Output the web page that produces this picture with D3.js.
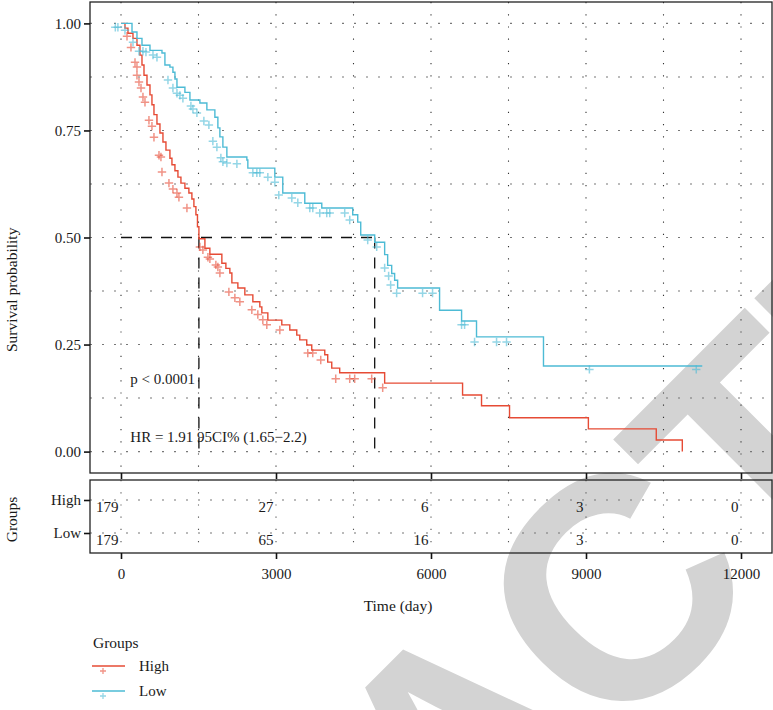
<!DOCTYPE html>
<html>
<head>
<meta charset="utf-8">
<script src="https://cdn.jsdelivr.net/npm/d3@7"></script>
<style>
  body { margin: 0; background: #fff; }
  svg { display: block; }
  text { font-family: "Liberation Serif", "DejaVu Serif", serif; fill: #1a1a1a; }
</style>
</head>
<body>
<svg id="chart" width="773" height="710"></svg>
<script>
// Kaplan–Meier steps (time in days, survival after the step)
const highTime = [77,135,232,309,367,406,445,503,561,599,638,696,754,812,870,947,986,1044,1102,1160,1237,1314,1372,1411,1450,1480,1508,1624,1720,1952,2030,2107,2146,2262,2397,2552,2687,2726,2842,3112,3267,3402,3460,3595,3692,3944,4001,4079,4233,5103,6611,6978,7520,9046,10360,10864];
const highSurv = [0.989,0.977,0.965,0.949,0.926,0.903,0.879,0.856,0.833,0.810,0.787,0.765,0.744,0.723,0.704,0.685,0.670,0.656,0.641,0.627,0.615,0.604,0.590,0.572,0.553,0.525,0.497,0.475,0.461,0.440,0.428,0.417,0.394,0.382,0.366,0.350,0.338,0.324,0.307,0.296,0.284,0.272,0.261,0.249,0.237,0.226,0.209,0.195,0.184,0.160,0.132,0.107,0.079,0.053,0.027,0];
const highEnd = 10864;

const lowTime = [213,309,406,561,793,850,947,1005,1044,1083,1237,1334,1527,1662,1817,1875,1914,1972,2049,2436,2455,2977,3131,3557,3886,4485,4582,4640,4910,5103,5161,5239,5296,5354,6166,6592,6881,8177];
const lowSurv = [0.980,0.965,0.949,0.937,0.931,0.903,0.898,0.886,0.870,0.851,0.839,0.821,0.814,0.798,0.781,0.756,0.735,0.711,0.688,0.681,0.662,0.641,0.604,0.580,0.569,0.553,0.536,0.506,0.489,0.460,0.435,0.416,0.400,0.382,0.330,0.305,0.268,0.200];
const lowEnd = 11250;

// censoring marks
const highCensorTime = [116,193,271,309,309,348,387,425,464,541,599,638,735,773,793,928,1005,1083,1121,1276,1527,1585,1682,1720,1836,1875,1914,2088,2204,2300,2532,2648,2745,2822,3074,3615,3711,3866,4156,4427,4523,4852,5065];
const highCensorSurv = [0.970,0.944,0.909,0.898,0.879,0.863,0.849,0.828,0.816,0.774,0.760,0.734,0.692,0.688,0.653,0.627,0.613,0.604,0.594,0.569,0.478,0.471,0.454,0.450,0.436,0.431,0.417,0.373,0.359,0.350,0.331,0.320,0.308,0.296,0.284,0.230,0.230,0.214,0.170,0.170,0.170,0.170,0.149];
const lowCensorTime = [-110,-60,77,232,348,425,483,619,696,909,1005,1083,1140,1198,1353,1392,1469,1604,1701,1778,1856,1933,1972,2049,2243,2552,2629,2687,2842,2977,3054,3306,3422,3654,3712,3847,3982,4040,4330,4427,4775,4949,5103,5180,5219,5335,5837,6030,6592,6650,6843,7269,7462,9066,11134];
const lowCensorSurv = [0.991,0.991,0.984,0.956,0.935,0.935,0.933,0.926,0.921,0.868,0.849,0.837,0.832,0.825,0.807,0.800,0.791,0.772,0.763,0.725,0.711,0.686,0.677,0.674,0.672,0.651,0.651,0.651,0.641,0.629,0.599,0.592,0.581,0.569,0.569,0.557,0.557,0.557,0.557,0.541,0.494,0.478,0.429,0.410,0.389,0.370,0.370,0.370,0.296,0.296,0.256,0.256,0.256,0.192,0.192];

const groups = ["High", "Low"];
const groupColors = ["#E64B35", "#4DBBD5"];
const medianTimes = [1508, 4910];

const xTicks = [0, 3000, 6000, 9000, 12000];
const xMinor = [1500, 4500, 7500, 10500];
const yTicks = [0, 0.25, 0.5, 0.75, 1];
const yMinor = [0.125, 0.375, 0.625, 0.875];

const riskTimes = [0, 3000, 6000, 9000, 12000];
const highAtRisk = [179, 27, 6, 3, 0];
const lowAtRisk = [179, 65, 16, 3, 0];

const pText = "p < 0.0001";
const hrText = "HR = 1.91 95CI% (1.65\u22122.2)";

// ---------------------------------------------------------------
const svg = d3.select("#chart");
const FS = "15px";

// background stamp
svg.append("text")
  .attr("transform", "translate(534,826) rotate(-45)")
  .attr("text-anchor", "middle")
  .style("font-family", "'Liberation Sans', Arial, sans-serif")
  .style("font-weight", "bold")
  .style("font-size", "316px")
  .style("letter-spacing", "-11px")
  .style("fill", "#d3d3d3")
  .text("RETRACTED");

const panel = { left: 90, right: 772, top: 2, bottom: 473 };
const risk = { top: 480, bottom: 553 };

const x = d3.scaleLinear().domain([-600, 12600]).range([panel.left, panel.right]);
const y = d3.scaleLinear().domain([-0.05, 1.05]).range([panel.bottom, panel.top]);
const yr = d3.scalePoint().domain(groups).range([risk.top, risk.bottom]).padding(0.606);

const gridStyle = sel => sel.attr("stroke-width", 1.1).attr("fill", "none");

// ---- main panel grid
const grid = svg.append("g");
[...xTicks, ...xMinor].forEach(t => {
  grid.append("line").call(gridStyle)
    .attr("x1", x(t)).attr("x2", x(t)).attr("y1", panel.top).attr("y2", panel.bottom)
    .attr("stroke", "#333").attr("stroke-dasharray", "1.2,11");
});
[...yTicks, ...yMinor].forEach(v => {
  grid.append("line").call(gridStyle)
    .attr("x1", panel.left).attr("x2", panel.right).attr("y1", y(v)).attr("y2", y(v))
    .attr("stroke", "#777").attr("stroke-dasharray", "2,10");
});

// ---- median reference lines
const med = svg.append("g").attr("stroke", "#111").attr("stroke-width", 1.3).attr("stroke-dasharray", "11,9").attr("fill", "none");
med.append("line").attr("x1", x(0)).attr("x2", x(d3.max(medianTimes))).attr("y1", y(0.5)).attr("y2", y(0.5));
medianTimes.forEach(t => {
  med.append("line").attr("x1", x(t)).attr("x2", x(t)).attr("y1", y(0.5)).attr("y2", y(0));
});

// ---- survival curves
const line = d3.line().x(d => x(d[0])).y(d => y(d[1])).curve(d3.curveStepAfter);
const curveData = [
  { times: highTime, surv: highSurv, end: highEnd, ct: highCensorTime, cs: highCensorSurv, color: groupColors[0] },
  { times: lowTime, surv: lowSurv, end: lowEnd, ct: lowCensorTime, cs: lowCensorSurv, color: groupColors[1] }
];
const plus = "M-4.2,0H4.2M0,-4.2V4.2";
curveData.forEach(c => {
  const pts = [[0, 1], ...c.times.map((t, i) => [t, c.surv[i]])];
  pts.push([c.end, c.surv[c.surv.length - 1]]);
  svg.append("path").attr("d", line(pts))
    .attr("fill", "none").attr("stroke", c.color).attr("stroke-width", 1.4);
  svg.append("g").selectAll("path").data(c.ct).join("path")
    .attr("d", plus)
    .attr("transform", (t, i) => `translate(${x(t)},${y(c.cs[i])})`)
    .attr("stroke", c.color).attr("stroke-width", 1.5).attr("stroke-opacity", 0.6).attr("fill", "none");
});

// ---- annotations
svg.append("text").attr("x", x(180)).attr("y", y(0.17) + 5).style("font-size", FS).text(pText);
svg.append("text").attr("x", x(180)).attr("y", y(0.035) + 5).style("font-size", FS).text(hrText);

// ---- main panel frame and axes
svg.append("rect").attr("x", panel.left).attr("y", panel.top)
  .attr("width", panel.right - panel.left).attr("height", panel.bottom - panel.top)
  .attr("fill", "none").attr("stroke", "#222").attr("stroke-width", 1.3);

const styleTicks = g => {
  g.select(".domain").remove();
  g.selectAll(".tick line").attr("stroke", "#111").attr("stroke-width", 1.6);
  g.selectAll(".tick text").style("font-size", FS).style("font-family", "'Liberation Serif', serif").attr("fill", "#1a1a1a");
};

const yAxis = d3.axisLeft(y).tickValues(yTicks).tickFormat(d3.format(".2f")).tickSize(6).tickPadding(3);
svg.append("g").attr("transform", `translate(${panel.left},0)`).call(yAxis).call(styleTicks);

const xAxisTop = d3.axisBottom(x).tickValues(xTicks).tickSize(6).tickFormat("");
svg.append("g").attr("transform", `translate(0,${panel.bottom})`).call(xAxisTop).call(styleTicks);

svg.append("text")
  .attr("transform", `translate(17,352) rotate(-90)`)
  .attr("text-anchor", "start").style("font-size", "15.5px").text("Survival probability");

// ---- risk table
const rgrid = svg.append("g");
[...xTicks, ...xMinor].forEach(t => {
  rgrid.append("line").call(gridStyle)
    .attr("x1", x(t)).attr("x2", x(t)).attr("y1", risk.top).attr("y2", risk.bottom)
    .attr("stroke", "#555").attr("stroke-dasharray", "1.2,11");
});
groups.forEach(g => {
  rgrid.append("line").call(gridStyle)
    .attr("x1", panel.left).attr("x2", panel.right).attr("y1", yr(g)).attr("y2", yr(g))
    .attr("stroke", "#777").attr("stroke-dasharray", "2,10");
});

svg.append("rect").attr("x", panel.left).attr("y", risk.top)
  .attr("width", panel.right - panel.left).attr("height", risk.bottom - risk.top)
  .attr("fill", "none").attr("stroke", "#222").attr("stroke-width", 1.3);

[highAtRisk, lowAtRisk].forEach((arr, gi) => {
  svg.append("g").selectAll("text").data(arr).join("text")
    .attr("x", (d, i) => x(riskTimes[i]) - 2.5)
    .attr("y", yr(groups[gi]) + 12)
    .attr("text-anchor", "end").style("font-size", FS)
    .text(d => d);
});

const ryAxis = d3.axisLeft(yr).tickSize(6).tickPadding(3);
svg.append("g").attr("transform", `translate(${panel.left},0)`).call(ryAxis).call(styleTicks);

const xAxis = d3.axisBottom(x).tickValues(xTicks).tickSize(6).tickPadding(9).tickFormat(d3.format("d"));
svg.append("g").attr("transform", `translate(0,${risk.bottom})`).call(xAxis).call(styleTicks);

svg.append("text")
  .attr("transform", `translate(17,${(risk.top + risk.bottom) / 2 + 3}) rotate(-90)`)
  .attr("text-anchor", "middle").style("font-size", "15.5px").text("Groups");

svg.append("text").attr("x", 398).attr("y", 611).attr("text-anchor", "middle")
  .style("font-size", "15.5px").text("Time (day)");

// ---- legend
const legend = svg.append("g").attr("transform", "translate(92,0)");
legend.append("text").attr("x", 1).attr("y", 648).style("font-size", "15.5px").text("Groups");
groups.forEach((g, i) => {
  const ly = 666 + i * 25;
  legend.append("line").attr("x1", 0).attr("x2", 33).attr("y1", ly).attr("y2", ly)
    .attr("stroke", groupColors[i]).attr("stroke-width", 1.6);
  legend.append("path").attr("d", "M-3,0H3M0,-3V3")
    .attr("transform", `translate(11,${ly + 5})`)
    .attr("stroke", groupColors[i]).attr("stroke-width", 1.3).attr("stroke-opacity", 0.6).attr("fill", "none");
  legend.append("text").attr("x", 47).attr("y", ly + 5).style("font-size", FS).text(g);
});
</script>
</body>
</html>
